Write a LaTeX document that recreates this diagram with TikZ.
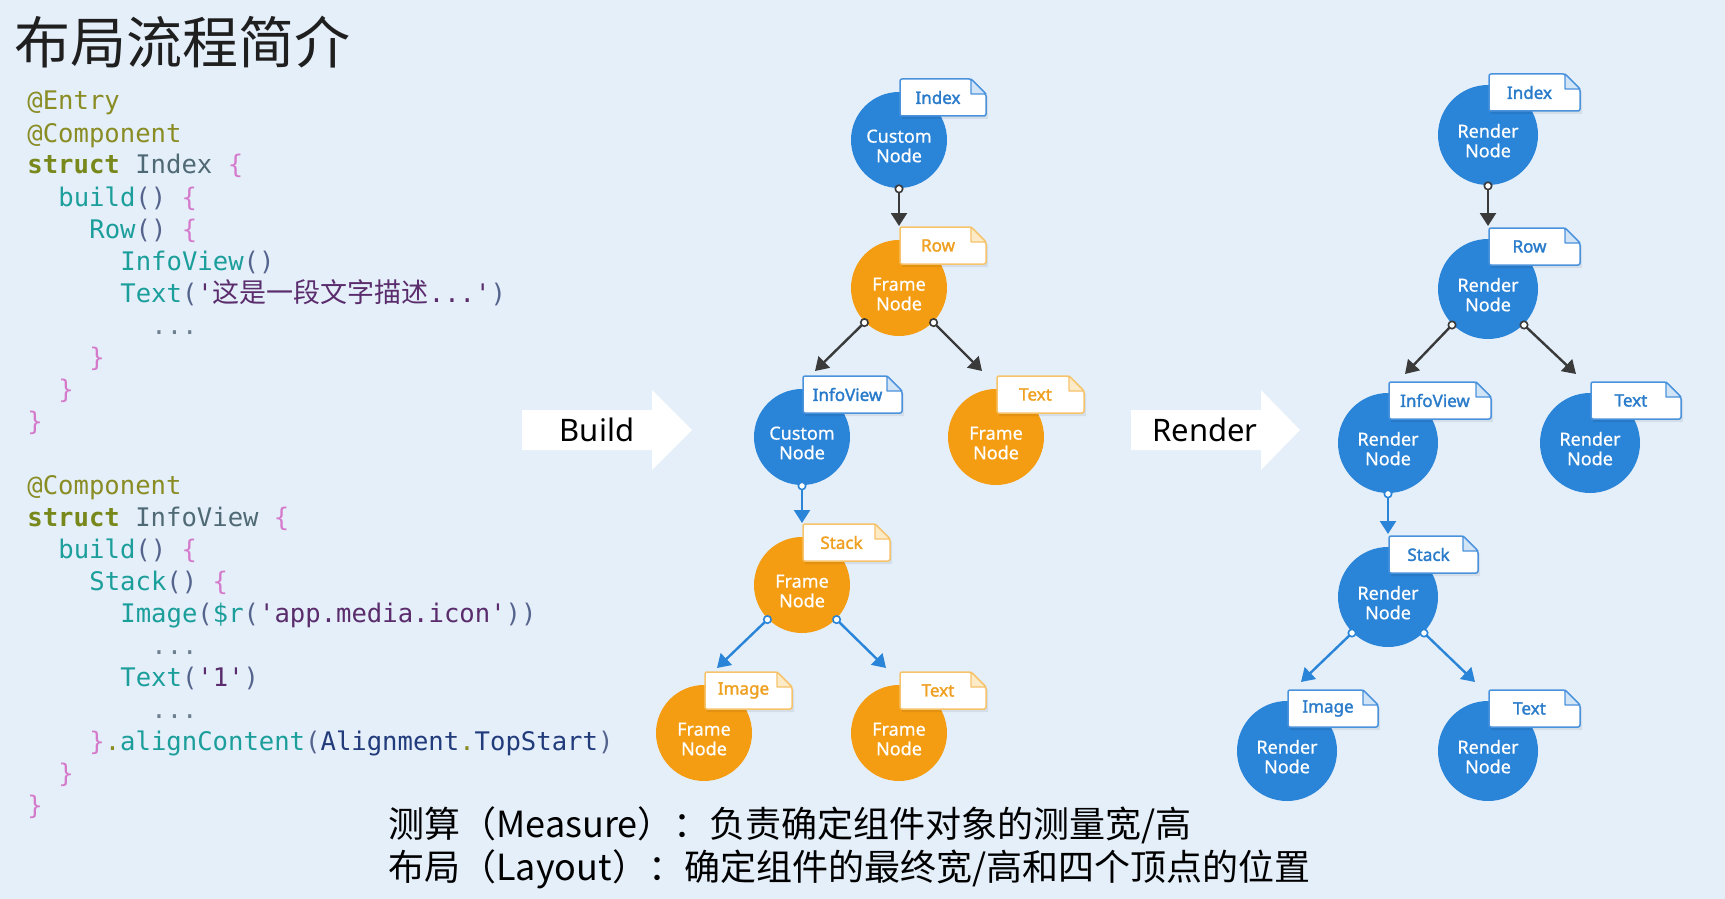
\documentclass[tikz,border=0pt]{standalone}
\usepackage{fontspec}
\usetikzlibrary{arrows.meta,calc}
\setmainfont{Noto Sans}
\newfontfamily\cjkfont{Noto Sans CJK SC}
\newfontfamily\codefont[Ligatures=TeXOff]{DejaVu Sans Mono}
\newfontfamily\uifont{Noto Sans}
\newfontfamily\circfont[FakeBold=0.6]{Noto Sans}
\newfontfamily\tagfont[FakeBold=1.8]{Noto Sans}
\definecolor{bgc}{HTML}{E4EFFA}
\definecolor{cblue}{HTML}{2A84D8}
\definecolor{corange}{HTML}{F49D12}
\definecolor{cdark}{HTML}{3A3A3A}
\definecolor{bline}{HTML}{4A92DC}
\definecolor{bfold}{HTML}{D2E5F7}
\definecolor{btext}{HTML}{2A7CCB}
\definecolor{oline}{HTML}{F6C36A}
\definecolor{ofold}{HTML}{FDEBC8}
\definecolor{otext}{HTML}{EFA020}
\definecolor{kAnn}{HTML}{8A8C24}
\definecolor{kKw}{HTML}{78881A}
\definecolor{kId}{HTML}{4F6A74}
\definecolor{kBr}{HTML}{D57ACB}
\definecolor{kFn}{HTML}{1C9E9B}
\definecolor{kPa}{HTML}{55648C}
\definecolor{kSt}{HTML}{5A2C6C}
\definecolor{kDt}{HTML}{6F7F8F}
\definecolor{kNv}{HTML}{213B7B}
\newcommand\cAnn[1]{\textcolor{kAnn}{#1}}
\newcommand\cKw[1]{\textcolor{kKw}{\bfseries #1}}
\newcommand\cId[1]{\textcolor{kId}{#1}}
\newcommand\cBr[1]{\textcolor{kBr}{#1}}
\newcommand\cFn[1]{\textcolor{kFn}{#1}}
\newcommand\cPa[1]{\textcolor{kPa}{#1}}
\newcommand\cSt[1]{\textcolor{kSt}{#1}}
\newcommand\cDt[1]{\textcolor{kDt}{#1}}
\newcommand\cNv[1]{\textcolor{kNv}{#1}}
\newcommand\codecjk{\cjkfont\fontsize{13.5}{14}\selectfont}
\newcommand\nstrut{\rule{0pt}{12.5pt}}
\tikzset{
  nodebase/.style={circle, text=white, inner sep=0pt, align=center,
    font=\circfont\fontsize{9}{9.8}\selectfont},
  bnode/.style={nodebase, fill=cblue, minimum size=48pt},
  onode/.style={nodebase, fill=corange, minimum size=48pt},
  rnode/.style={nodebase, fill=cblue, minimum size=50pt},
  darr/.style={draw=cdark, line width=1.2pt, shorten <=-2pt,
    {Circle[length=4.5pt, fill=white, line width=0.8pt]}-{Triangle[length=6.5pt, width=8pt]}},
  barr/.style={darr, draw=cblue},
  tagtext/.style={font=\tagfont\fontsize{8.5}{10}\selectfont, inner sep=0pt},
  codeline/.style={anchor=base west, inner sep=0pt, font=\codefont\fontsize{12.8}{14}\selectfont},
  bigarrow/.style={fill=white, draw=none},
  bigtext/.style={font=\uifont\fontsize{15.5}{18}\selectfont, text=black, inner sep=0pt},
  bottomtext/.style={anchor=west, inner sep=0pt, font=\cjkfont\fontsize{18}{22}\selectfont, text=black},
}
\newcommand\mytag[5]{%
  \begin{scope}[shift={($(#2.center)+(1,-61)$)}]
    \fill[black, opacity=0.07] (2,3) -- (#3-13,3) -- (#3+2,18) -- (#3+2,40) -- (2,40) -- cycle;
    \filldraw[fill=white, draw=#5line, line width=0.75pt, rounded corners=1pt]
      (0,0) -- (#3-15,0) -- (#3,15) -- (#3,37) -- (0,37) -- cycle;
    \filldraw[fill=#5fold, draw=#5line, line width=0.6pt, line join=round]
      (#3-15,0) -- (#3-15,15) -- (#3,15) -- cycle;
    \node[tagtext, text=#5text] (#1) at (#3/2-5,18.5) {#4};
  \end{scope}}
\begin{document}
\begin{tikzpicture}[x=0.5pt, y=-0.5pt]
\fill[bgc] (0,0) rectangle (1725,899);
\useasboundingbox (0,0) rectangle (1725,899);

% title
\node[anchor=west, inner sep=0pt, font=\cjkfont\fontsize{28}{30}\selectfont, text=black!88] (title) at (14,42) {布局流程简介};

% code
\node[codeline] (c1) at (27,110) {\cAnn{@Entry}};
\node[codeline] (c2) at (27,142) {\cAnn{@Component}};
\node[codeline] (c3) at (27,174) {\cKw{struct} \cId{Index} \cBr{\{}};
\node[codeline] (c4) at (58,206) {\cFn{build}\cPa{()} \cBr{\{}};
\node[codeline] (c5) at (89,238) {\cFn{Row}\cPa{()} \cBr{\{}};
\node[codeline] (c6) at (120,270) {\cFn{InfoView}\cPa{()}};
\node[codeline] (c7) at (120,302) {\cFn{Text}\cPa{(}\cSt{'{\codecjk 这是一段文字描述}...'}\cPa{)}};
\node[codeline] (c8) at (151,334) {\cDt{...}};
\node[codeline] (c9) at (89,366) {\cBr{\}}};
\node[codeline] (c10) at (58,398) {\cBr{\}}};
\node[codeline] (c11) at (27,430) {\cBr{\}}};
\node[codeline] (c13) at (27,494) {\cAnn{@Component}};
\node[codeline] (c14) at (27,526) {\cKw{struct} \cId{InfoView} \cBr{\{}};
\node[codeline] (c15) at (58,558) {\cFn{build}\cPa{()} \cBr{\{}};
\node[codeline] (c16) at (89,590) {\cFn{Stack}\cPa{()} \cBr{\{}};
\node[codeline] (c17) at (120,622) {\cFn{Image}\cPa{(}\cFn{\$r}\cPa{(}\cSt{'app.media.icon'}\cPa{))}};
\node[codeline] (c18) at (151,654) {\cDt{...}};
\node[codeline] (c19) at (120,686) {\cFn{Text}\cPa{(}\cSt{'1'}\cPa{)}};
\node[codeline] (c20) at (151,718) {\cDt{...}};
\node[codeline] (c21) at (89,750) {\cBr{\}}\cAnn{.}\cFn{alignContent}\cPa{(}\cNv{Alignment}\cAnn{.}\cNv{TopStart}\cPa{)}};
\node[codeline] (c22) at (58,782) {\cBr{\}}};
\node[codeline] (c23) at (27,814) {\cBr{\}}};

% big arrows
\fill[bigarrow] (522,410) -- (652,410) -- (652,390) -- (692,430) -- (652,470) -- (652,450) -- (522,450) -- cycle;
\node[bigtext] (buildlbl) at (597,430) {Build};
\fill[bigarrow] (1131,410) -- (1261,410) -- (1261,390) -- (1300,430) -- (1261,470) -- (1261,450) -- (1131,450) -- cycle;
\node[bigtext] (renderlbl) at (1205,430) {Render};

% build tree
\node[bnode] (b1) at (899,140) {\nstrut Custom\\Node};
\mytag{b1t}{b1}{86}{Index}{b}
\node[onode] (b2) at (899,288) {\nstrut Frame\\Node};
\mytag{b2t}{b2}{86}{Row}{o}
\node[bnode] (b3) at (802,437) {\nstrut Custom\\Node};
\mytag{b3t}{b3}{99}{InfoView}{b}
\node[onode] (b4) at (996,437) {\nstrut Frame\\Node};
\mytag{b4t}{b4}{87}{Text}{o}
\node[onode] (b5) at (802,585) {\nstrut Frame\\Node};
\mytag{b5t}{b5}{87}{Stack}{o}
\node[onode] (b6) at (704,733) {\nstrut Frame\\Node};
\mytag{b6t}{b6}{87}{Image}{o}
\node[onode] (b7) at (899,733) {\nstrut Frame\\Node};
\mytag{b7t}{b7}{86}{Text}{o}

\coordinate (b2in) at (899,226);
\coordinate (b3in) at (815,371);
\coordinate (b4in) at (982,371);
\coordinate (b5in) at (802,523);
\coordinate (b6in) at (717,668);
\coordinate (b7in) at (886,668);
\draw[darr] (b1.south) -- (b2in);
\draw[darr] (b2.225) -- (b3in);
\draw[darr] (b2.-45) -- (b4in);
\draw[barr] (b3.south) -- (b5in);
\draw[barr] (b5.225) -- (b6in);
\draw[barr] (b5.-45) -- (b7in);

% render tree
\node[rnode] (r1) at (1488,135) {\nstrut Render\\Node};
\mytag{r1t}{r1}{91}{Index}{b}
\node[rnode] (r2) at (1488,289) {\nstrut Render\\Node};
\mytag{r2t}{r2}{91}{Row}{b}
\node[rnode] (r3) at (1388,443) {\nstrut Render\\Node};
\mytag{r3t}{r3}{102}{InfoView}{b}
\node[rnode] (r4) at (1590,443) {\nstrut Render\\Node};
\mytag{r4t}{r4}{90}{Text}{b}
\node[rnode] (r5) at (1388,597) {\nstrut Render\\Node};
\mytag{r5t}{r5}{89}{Stack}{b}
\node[rnode] (r6) at (1287,751) {\nstrut Render\\Node};
\mytag{r6t}{r6}{90}{Image}{b}
\node[rnode] (r7) at (1488,751) {\nstrut Render\\Node};
\mytag{r7t}{r7}{91}{Text}{b}

\coordinate (r2in) at (1488,226);
\coordinate (r3in) at (1405,374);
\coordinate (r4in) at (1576,374);
\coordinate (r5in) at (1388,534);
\coordinate (r6in) at (1301,682);
\coordinate (r7in) at (1475,682);
\draw[darr] (r1.south) -- (r2in);
\draw[darr] (r2.225) -- (r3in);
\draw[darr] (r2.-45) -- (r4in);
\draw[barr] (r3.south) -- (r5in);
\draw[barr] (r5.225) -- (r6in);
\draw[barr] (r5.-45) -- (r7in);

% bottom text
\node[bottomtext] (m1) at (388,825) {测算（Measure）：负责确定组件对象的测量宽/高};
\node[bottomtext] (m2) at (388,869) {布局（Layout）：确定组件的最终宽/高和四个顶点的位置};
\end{tikzpicture}
\end{document}
